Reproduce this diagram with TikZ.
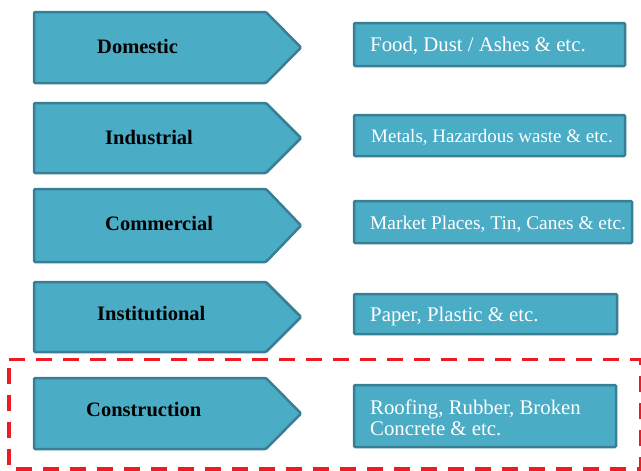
\documentclass[tikz,border=0pt]{standalone}
\usepackage{fontspec}
\setmainfont{Liberation Serif}
\definecolor{boxfill}{RGB}{75,172,198}
\definecolor{boxline}{RGB}{56,127,147}
\definecolor{dashred}{RGB}{237,28,36}
\tikzset{
  shapebox/.style={fill=boxfill, draw=boxline, line width=2.5pt, rounded corners=1.2pt},
  lbl/.style={anchor=base west, inner sep=0pt, font=\bfseries\fontsize{20.5}{24}\selectfont, text=black},
  itm/.style={anchor=base west, inner sep=0pt, text=white, align=left},
  hilite/.style={draw=dashred, line width=3.8pt, dash pattern=on 15.5pt off 11.5pt}
}
\newcommand{\arrowshape}[2]{%
  \draw[shapebox] (34,#1) -- (266,#1) -- (301,{(#1+#2)/2}) -- (266,#2) -- (34,#2) -- cycle;}
\begin{document}
\begin{tikzpicture}[x=1pt,y=-1pt]
\useasboundingbox (0,0) rectangle (641,471);
% left arrows
\arrowshape{12}{83}
\arrowshape{103}{173}
\arrowshape{189}{262}
\arrowshape{282}{352}
\arrowshape{378}{449}
\node[lbl] (dom) at (97,53.3) {Domestic};
\node[lbl] (ind) at (105,144) {Industrial};
\node[lbl] (com) at (105,230) {Commercial};
\node[lbl] (ins) at (97,320.7) {Institutional};
\node[lbl] (con) at (86,416.7) {Construction};
% right boxes
\draw[shapebox] (354,23) rectangle (625,66);
\draw[shapebox] (354,115) rectangle (625,156);
\draw[shapebox] (354,201) rectangle (632,243);
\draw[shapebox] (354,294) rectangle (617,334);
\draw[shapebox] (354,385) rectangle (616,447);
\node[itm, font=\fontsize{20.8}{24}\selectfont] (t1) at (370,51.7) {Food, Dust / Ashes \& etc.};
\node[itm, font=\fontsize{19}{24}\selectfont] (t2) at (371,142.7) {Metals, Hazardous waste \& etc.};
\node[itm, font=\fontsize{19.4}{24}\selectfont] (t3) at (370,229.3) {Market Places, Tin, Canes \& etc.};
\node[itm, font=\fontsize{20.8}{24}\selectfont] (t4) at (370,321) {Paper, Plastic \& etc.};
\node[itm, font=\fontsize{20.8}{21}\selectfont] (t5) at (370,435) {Roofing, Rubber, Broken\\Concrete \& etc.};
% highlight
\draw[hilite] (9,359.5) -- (640.5,359.5) -- (640.5,469) -- (9,469) -- cycle;
\end{tikzpicture}
\end{document}
